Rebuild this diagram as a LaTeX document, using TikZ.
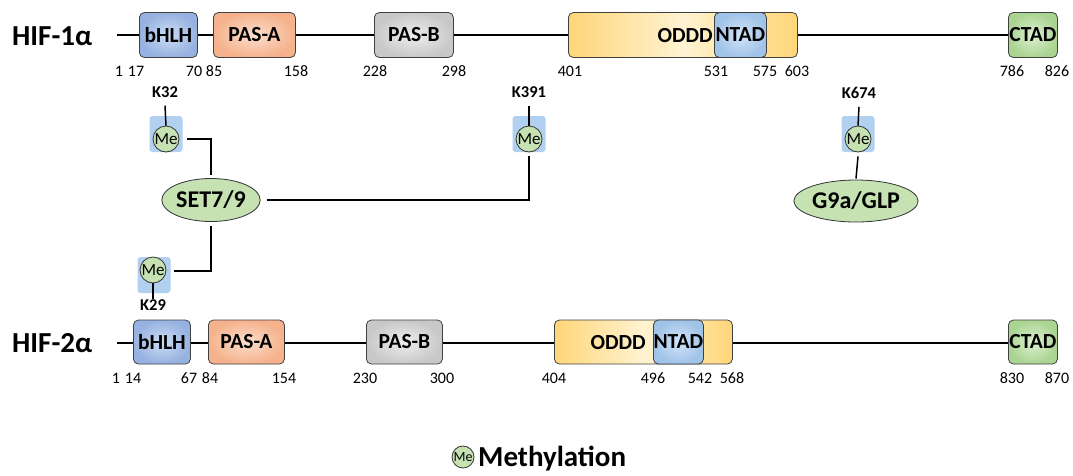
\documentclass[tikz,border=0pt]{standalone}
\usepackage{fontspec}
\setmainfont{Carlito}
\usetikzlibrary{shapes.geometric,calc}
\definecolor{bhlhO}{RGB}{150,178,224}
\definecolor{bhlhI}{RGB}{205,220,245}
\definecolor{pasaO}{RGB}{245,178,140}
\definecolor{pasaI}{RGB}{252,222,205}
\definecolor{pasbO}{RGB}{200,200,200}
\definecolor{pasbI}{RGB}{238,238,238}
\definecolor{odddO}{RGB}{255,214,120}
\definecolor{odddI}{RGB}{255,243,210}
\definecolor{ntadO}{RGB}{160,195,232}
\definecolor{ntadI}{RGB}{210,228,248}
\definecolor{ctadO}{RGB}{170,212,145}
\definecolor{ctadI}{RGB}{222,240,210}
\definecolor{megreen}{RGB}{198,226,178}
\definecolor{meblue}{RGB}{178,208,240}
\tikzset{
  dom/.style={draw=black!75, line width=0.8pt, rounded corners=5pt, anchor=west, minimum height=45pt, inner sep=0pt, font=\fontsize{21.5}{23}\selectfont\bfseries},
  domtext/.style={font=\fontsize{21.5}{23}\selectfont\bfseries, anchor=east, inner sep=0pt},
  num/.style={font=\fontsize{16}{17}\selectfont, inner sep=0pt},
  klab/.style={font=\fontsize{16.5}{17}\selectfont\bfseries, inner sep=0pt},
  title/.style={font=\fontsize{29}{30}\selectfont\bfseries, anchor=west, inner sep=0pt},
  mesq/.style={fill=meblue, rounded corners=3pt, minimum width=33pt, minimum height=36pt, inner sep=0pt},
  mec/.style={circle, draw=black!80, line width=0.8pt, fill=megreen, minimum size=26pt, inner sep=0pt, font=\fontsize{17}{17}\selectfont},
  enz/.style={ellipse, draw=black!80, line width=0.8pt, fill=megreen, inner sep=0pt, font=\fontsize{24}{26}\selectfont\bfseries},
  link/.style={line width=1.5pt, black},
  bb/.style={line width=2pt, black}
}
\begin{document}
\begin{tikzpicture}[x=1pt,y=-1pt]
\path[use as bounding box] (0,0) rectangle (1073,475);
% ---------------- HIF-1a
\node[title] (t1) at (12,36) {HIF-1α};
\coordinate (l1s) at (117,35);
\coordinate (l1e) at (1057,35);
\draw[bb] (l1s) -- (l1e);
\node[dom, minimum width=58pt, inner color=bhlhI, outer color=bhlhO] (bhlh1) at (139,35) {bHLH};
\node[dom, minimum width=82pt, inner color=pasaI, outer color=pasaO] (pasa1) at (213,35) {PAS-A};
\node[dom, minimum width=79pt, inner color=pasbI, outer color=pasbO] (pasb1) at (374,35) {PAS-B};
\node[dom, minimum width=229pt, left color=odddO, right color=odddO, middle color=odddI] (oddd1) at (568,35) {};
\node[dom, minimum width=52pt, inner color=ntadI, outer color=ntadO] (ntad1) at (714,35) {NTAD};
\node[domtext] (oddt1) at (713,36) {ODDD};
\node[dom, minimum width=49pt, inner color=ctadI, outer color=ctadO] (ctad1) at (1008,35) {CTAD};
\foreach \x/\t in {119/1,136/17,194/70,214/85,296/158,375/228,454/298,570/401,716/531,765/575,797/603,1012/786,1057/826}
  \node[num] at (\x,71) {\t};
% ---------------- HIF-2a
\node[title] (t2) at (12,343) {HIF-2α};
\coordinate (l2s) at (117,343);
\coordinate (l2e) at (1057,343);
\draw[bb] (l2s) -- (l2e);
\node[dom, minimum width=57pt, minimum height=44pt, inner color=bhlhI, outer color=bhlhO] (bhlh2) at (133,342) {bHLH};
\node[dom, minimum width=76pt, minimum height=44pt, inner color=pasaI, outer color=pasaO] (pasa2) at (208,342) {PAS-A};
\node[dom, minimum width=76pt, minimum height=44pt, inner color=pasbI, outer color=pasbO] (pasb2) at (366,342) {PAS-B};
\node[dom, minimum width=178pt, minimum height=44pt, left color=odddO, right color=odddO, middle color=odddI] (oddd2) at (554,342) {};
\node[dom, minimum width=50pt, minimum height=44pt, inner color=ntadI, outer color=ntadO] (ntad2) at (653,342) {NTAD};
\node[domtext] (oddt2) at (646,343) {ODDD};
\node[dom, minimum width=49pt, minimum height=44pt, inner color=ctadI, outer color=ctadO] (ctad2) at (1008,342) {CTAD};
\foreach \x/\t in {116/1,133/14,189/67,210/84,284/154,365/230,442/300,554/404,653/496,700/542,732/568,1012/830,1057/870}
  \node[num] at (\x,378) {\t};
% ---------------- methylation sites
\node[klab] (k32) at (165,92) {K32};
\node[mesq] (sq32) at (166,134) {};
\node[mec] (me32) at (166,139) {Me};
\draw[link] ($(k32.south)+(0,8)$) -- (me32.north);

\node[klab] (k391) at (529,92) {K391};
\node[mesq] (sq391) at (529,134) {};
\node[mec] (me391) at (529,139) {Me};
\draw[link] ($(k391.south)+(0,8)$) -- (me391.north);

\node[klab] (k674) at (859,93) {K674};
\node[mesq] (sq674) at (858,134) {};
\node[mec] (me674) at (858,139) {Me};
\draw[link] ($(k674.south)+(0,8)$) -- (me674.north);

\node[mesq] (sq29) at (154,275) {};
\node[mec] (me29) at (153,270) {Me};
\node[klab] (k29) at (153,305) {K29};
\draw[link] (me29.south) -- (k29.north);

% ---------------- enzymes
\node[enz, minimum width=74pt, minimum height=43pt] (set) at (211,200) {SET7/9};
\node[enz, minimum width=88pt, minimum height=42pt] (g9a) at (856,201) {G9a/GLP};

\draw[link] ($(sq32.east)+(4,5)$) -| ($(set.north)+(0,-3)$);
\draw[link] ($(set.east)+(6,0)$) -| ($(me391.south)+(0,4)$);
\draw[link] ($(set.south)+(0,4)$) |- ($(sq29.east)+(3,-4)$);
\draw[link] ($(me674.south)+(0,4)$) -- ($(g9a.north)+(0,-1)$);

% ---------------- legend
\node[mec, minimum size=22pt, font=\fontsize{14}{14}\selectfont] (leg) at (463,457) {Me};
\node[font=\fontsize{29}{30}\selectfont\bfseries, anchor=west, inner sep=0pt] (legt) at (478,459) {Methylation};
\end{tikzpicture}
\end{document}
